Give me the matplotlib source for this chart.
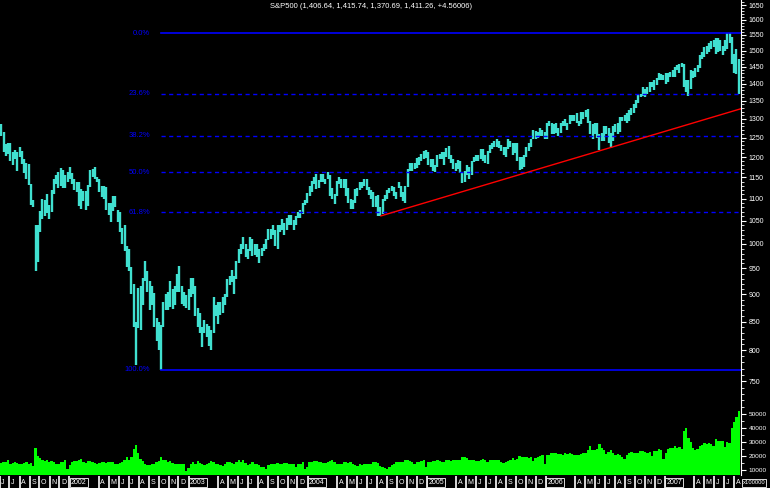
import pandas as pd
import matplotlib
matplotlib.use('Agg')
import matplotlib.pyplot as plt
import matplotlib.transforms as mtransforms
from matplotlib.ticker import FixedLocator, NullFormatter, FuncFormatter

plt.rcParams['font.family'] = ['Liberation Sans Narrow', 'Liberation Sans', 'DejaVu Sans']

# weekly S&P500 high / low (week starting Monday 2001-06-04)
week_high = [
    1286, 1265, 1233, 1235,                 # 2001 Jun
    1236, 1212, 1219, 1214, 1226,           # Jul
    1215, 1195, 1186, 1183,                 # Aug
    1135, 1096, 1040, 1040,                 # Sep
    1072, 1099, 1097, 1110, 1085,           # Oct
    1120, 1145, 1155, 1163,                 # Nov
    1173, 1168, 1155, 1163, 1176,           # Dec
    1160, 1146, 1140, 1138,                 # 2002 Jan
    1122, 1118, 1117, 1132,                 # Feb
    1168, 1170, 1174, 1152,                 # Mar
    1147, 1130, 1130, 1128, 1090,           # Apr
    1090, 1107, 1106, 1075,                 # May
    1070, 1035, 1040, 995,                  # Jun
    990, 952, 920, 850, 912,                # Jul
    915, 932, 965, 945,                     # Aug
    925, 915, 902, 856, 850,                # Sep
    843, 885, 900, 905,                     # Oct
    925, 910, 915, 940,                     # Nov
    954, 915, 905, 898, 910,                # Dec
    932, 932, 915, 875,                     # 2003 Jan
    865, 840, 852, 845,                     # Feb
    842, 835, 895, 880, 885,                # Mar
    885, 895, 900, 930,                     # Apr
    935, 946, 935, 965,                     # May
    990, 1000, 1015, 1000, 990,             # Jun
    1015, 1010, 1000, 1000,                 # Jul
    990, 992, 1000, 1010,                   # Aug
    1032, 1033, 1040, 1030, 1040,           # Sep
    1040, 1054, 1045, 1055,                 # Oct
    1062, 1063, 1052, 1060,                 # Nov
    1070, 1075, 1090, 1097, 1112,           # Dec
    1130, 1142, 1150, 1157,                 # 2004 Jan
    1143, 1157, 1158, 1147,                 # Feb
    1163, 1156, 1125, 1110, 1142,           # Mar
    1150, 1145, 1145, 1145,                 # Apr
    1125, 1100, 1097, 1123, 1125,           # May
    1140, 1140, 1146, 1145,                 # Jun
    1128, 1120, 1115, 1105,                 # Jul
    1108, 1080, 1100, 1108, 1120,           # Aug
    1125, 1130, 1128, 1115,                 # Sep
    1140, 1130, 1115, 1130,                 # Oct
    1170, 1185, 1185, 1185, 1198,           # Nov
    1200, 1207, 1215, 1217,                 # Dec
    1212, 1195, 1195, 1180, 1205,           # 2005 Jan
    1208, 1212, 1212, 1224,                 # Feb
    1229, 1205, 1195, 1185,                 # Mar
    1192, 1190, 1160, 1165,                 # Apr
    1180, 1175, 1190, 1200, 1205,           # May
    1205, 1220, 1220, 1205,                 # Jun
    1215, 1230, 1235, 1240,                 # Jul
    1245, 1240, 1230, 1225, 1225,           # Aug
    1245, 1240, 1235, 1235,                 # Sep
    1235, 1200, 1200, 1205, 1225,           # Oct
    1235, 1245, 1270, 1268,                 # Nov
    1265, 1275, 1270, 1265,                 # Dec
    1290, 1295, 1290, 1285, 1290,           # 2006 Jan
    1275, 1290, 1295, 1300,                 # Feb
    1290, 1310, 1310, 1310,                 # Mar
    1315, 1295, 1318, 1318,                 # Apr
    1325, 1326, 1295, 1285, 1290,           # May
    1290, 1260, 1262, 1280,                 # Jun
    1282, 1275, 1262, 1280, 1285,           # Jul
    1290, 1305, 1305, 1310,                 # Aug
    1315, 1325, 1330, 1340,                 # Sep
    1352, 1366, 1370, 1390, 1385,           # Oct
    1390, 1405, 1405, 1410,                 # Nov
    1415, 1430, 1427, 1425,                 # Dec
    1430, 1432, 1435, 1440, 1450,           # 2007 Jan
    1455, 1460, 1462, 1460,                 # Feb
    1410, 1410, 1440, 1438,                 # Mar
    1445, 1455, 1485, 1495, 1510,           # Apr
    1515, 1525, 1530, 1535,                 # May
    1540, 1540, 1535, 1515,                 # Jun
    1535, 1555, 1556, 1545, 1490,           # Jul
    1505, 1475,                             # Aug
]

week_low = [
    1255, 1214, 1203, 1207,
    1190, 1180, 1196, 1165, 1200,
    1183, 1160, 1147, 1132,
    1085, 1080, 944, 962,
    1026, 1054, 1060, 1068, 1053,
    1070, 1110, 1135, 1125,
    1130, 1124, 1125, 1140, 1145,
    1135, 1120, 1115, 1082,
    1077, 1095, 1075, 1084,
    1128, 1150, 1145, 1140,
    1115, 1103, 1100, 1075, 1063,
    1048, 1072, 1080, 1048,
    1025, 1000, 985, 952,
    945, 900, 840, 776, 838,
    835, 880, 925, 905,
    870, 880, 840, 816, 800,
    768, 840, 871, 870,
    877, 872, 880, 905,
    904, 882, 878, 875, 870,
    895, 900, 860, 840,
    830, 806, 830, 822,
    807, 800, 830, 860, 845,
    862, 866, 880, 894,
    918, 924, 900, 930,
    960, 980, 990, 973, 970,
    985, 975, 978, 974,
    960, 975, 985, 990,
    1008, 1010, 1018, 995, 990,
    1025, 1030, 1018, 1030,
    1040, 1040, 1030, 1040,
    1055, 1055, 1065, 1085, 1090,
    1105, 1115, 1135, 1122,
    1125, 1139, 1138, 1135,
    1145, 1105, 1100, 1087, 1105,
    1135, 1125, 1125, 1107,
    1090, 1076, 1077, 1090, 1107,
    1120, 1125, 1130, 1120,
    1108, 1100, 1080, 1080,
    1060, 1060, 1064, 1095, 1098,
    1113, 1118, 1105, 1100,
    1125, 1103, 1095, 1090,
    1127, 1165, 1165, 1170, 1172,
    1180, 1190, 1195, 1198,
    1180, 1175, 1165, 1163, 1175,
    1195, 1195, 1180, 1200,
    1195, 1185, 1170, 1165,
    1170, 1160, 1137, 1140,
    1156, 1145, 1155, 1187, 1190,
    1190, 1195, 1190, 1185,
    1183, 1210, 1220, 1225,
    1225, 1222, 1215, 1205, 1200,
    1220, 1225, 1205, 1210,
    1190, 1168, 1170, 1175, 1200,
    1215, 1225, 1245, 1245,
    1250, 1255, 1255, 1245,
    1245, 1280, 1260, 1260, 1262,
    1255, 1262, 1280, 1280,
    1270, 1285, 1295, 1295,
    1290, 1280, 1285, 1300,
    1305, 1290, 1260, 1245, 1260,
    1250, 1219, 1240, 1240,
    1260, 1235, 1224, 1240, 1265,
    1260, 1265, 1295, 1295,
    1290, 1295, 1310, 1315,
    1330, 1345, 1360, 1365, 1360,
    1370, 1375, 1390, 1380,
    1395, 1410, 1410, 1410,
    1400, 1405, 1420, 1420, 1420,
    1440, 1430, 1450, 1390,
    1374, 1364, 1385, 1415,
    1420, 1435, 1445, 1475, 1480,
    1490, 1495, 1505, 1510,
    1490, 1495, 1500, 1485,
    1500, 1505, 1525, 1458, 1430,
    1427, 1370,
]

# weekly average volume (x100000)
week_vol = [
    15000, 15500, 16000, 17500,
    14000, 15000, 15500, 15000, 14500,
    14000, 15000, 15500, 14000,
    15000, 13000, 26000, 20000,
    18500, 17500, 16500, 17000, 16000,
    16500, 15500, 14500, 14000,
    16000, 15500, 17000, 11000, 13500,
    16000, 16500, 16500, 17500,
    18000, 15500, 15000, 16500,
    16500, 15500, 15000, 14000,
    15000, 15500, 15500, 15000, 16000,
    15500, 16000, 14500, 14000,
    15000, 16000, 17500, 19500,
    17000, 19000, 25000, 28000, 22000,
    18000, 16500, 14500, 13500,
    13500, 14500, 14500, 15500, 16500,
    19000, 17500, 17000, 16000,
    16500, 15000, 14500, 14000,
    14500, 14000, 14500, 9000, 11500,
    14500, 15500, 14500, 16500,
    15000, 14000, 13500, 14000,
    15000, 16500, 16000, 14000, 14500,
    13500, 13000, 14000, 15500,
    15500, 15000, 14500, 15500,
    17000, 15500, 17000, 15000, 13500,
    14500, 15500, 14000, 14500,
    13500, 12500, 12500, 11000,
    13500, 14000, 14500, 14500, 15000,
    14000, 14500, 15000, 15000,
    14500, 14500, 14500, 12500,
    14500, 14500, 16000, 11000, 12500,
    16000, 16000, 16500, 16500,
    15500, 15500, 15000, 15000,
    15500, 16500, 17000, 15500, 14500,
    14000, 14500, 15500, 15500,
    15000, 16000, 14500, 13500, 13000,
    14000, 13500, 14000, 14500,
    14000, 14500, 15500, 15500,
    15000, 13000, 12500, 11500, 11000,
    12500, 13500, 14500, 15500,
    15500, 15500, 16000, 17500,
    17500, 16500, 16000, 14000, 15500,
    15500, 16500, 17500, 12500,
    16000, 16000, 16500, 16500, 17000,
    16500, 16000, 16000, 17500,
    17000, 16500, 17500, 17000,
    17000, 17500, 19000, 19000,
    18500, 17500, 17500, 17000, 16500,
    16500, 17500, 18000, 17000,
    16000, 17000, 17500, 17500,
    17000, 17000, 16000, 15000, 16000,
    16500, 17500, 18500, 17500,
    18000, 20000, 19500, 19500, 19000,
    18500, 19000, 16500, 18500,
    19500, 20000, 21000, 14500,
    20500, 21000, 22500, 22000, 22500,
    21500, 21500, 21000, 22000,
    21500, 22000, 21500, 21000,
    21000, 20500, 21500, 22000,
    22500, 24000, 27500, 24000, 24500,
    25000, 28500, 26000, 24500,
    21500, 23000, 24500, 22500, 21000,
    21500, 21000, 19000, 18000,
    20500, 22000, 23000, 22000,
    22500, 22500, 23500, 23500, 23000,
    22500, 23000, 20000, 23500,
    23500, 25000, 24500, 18000,
    22000, 25000, 25500, 26000, 27500,
    26000, 26500, 25000, 38000,
    40000, 33000, 30000, 26000,
    24500, 25000, 27500, 28000, 29000,
    28500, 29000, 28500, 27500,
    32000, 31000, 31000, 30500,
    26500, 30000, 29000, 40000, 44000,
    48000, 52000,
]

title = 'S&P500 (1,406.64, 1,415.74, 1,370.69, 1,411.26, +4.56006)'

fib_high = 1555.9
fib_low = 768.6
fib_start = '2002-10-09'
fib_ratios = [0.0, 0.236, 0.382, 0.5, 0.618, 1.0]
fib_labels = ['0.0%', '23.6%', '38.2%', '50.0%', '61.8%', '100.0%']

trend_dates = ['2004-08-13', '2007-08-22']
trend_prices = [1060.7, 1328]

price_ticks = list(range(750, 1651, 50))
vol_ticks = [10000, 20000, 30000, 40000, 50000]

n = min(len(week_high), len(week_low), len(week_vol))
dates = pd.date_range('2001-06-04', periods=n, freq='W-MON') + pd.Timedelta(days=2)
x0, x1 = pd.Timestamp('2001-06-02'), pd.Timestamp('2007-08-22')

W, H = 770, 488
fig = plt.figure(figsize=(W / 100, H / 100), dpi=100, facecolor='black')

# price panel
ax = fig.add_axes([0, 1 - 400 / H, 741 / W, 400 / H])
ax.set_facecolor('black')
ax.set_yscale('log')
ax.set_ylim(721, 1668)
ax.set_xlim(x0, x1)
ax.vlines(dates, week_low[:n], week_high[:n], color='#40E0D0', lw=1.7)

for r, lab in zip(fib_ratios, fib_labels):
    lvl = fib_high - r * (fib_high - fib_low)
    if r in (0.0, 1.0):
        ax.plot([pd.Timestamp(fib_start), x1], [lvl, lvl], color='#0000FF', lw=1.2)
    else:
        ax.plot([pd.Timestamp(fib_start), x1], [lvl, lvl], color='#0000FF', lw=1,
                dashes=(3, 2.5))
    tr = mtransforms.blended_transform_factory(ax.transAxes, ax.transData)
    ax.text(150 / 741, lvl, lab, transform=tr, color='#0000FF', fontsize=5.5,
            ha='right', va='center')

ax.plot(pd.to_datetime(trend_dates), trend_prices, color='#FF0000', lw=1)

for s in ['top', 'left', 'bottom']:
    ax.spines[s].set_visible(False)
ax.spines['right'].set_color('white')
ax.set_xticks([])
ax.yaxis.tick_right()
ax.yaxis.set_major_locator(FixedLocator(price_ticks))
ax.yaxis.set_minor_locator(FixedLocator(list(range(730, 1661, 10))))
ax.yaxis.set_major_formatter(FuncFormatter(lambda v, p: '%d' % v))
ax.yaxis.set_minor_formatter(NullFormatter())
ax.tick_params(axis='y', which='major', colors='white', length=3.5, labelsize=5, pad=2)
ax.tick_params(axis='y', which='minor', colors='white', length=1.8)

# volume panel
axv = fig.add_axes([0, 1 - 475 / H, 741 / W, 75 / H])
axv.set_facecolor('black')
axv.bar(dates, week_vol[:n], width=7, color='#00FF00', linewidth=0)
axv.set_xlim(x0, x1)
axv.set_ylim(6430, 60000)
for s in ['top', 'left', 'bottom']:
    axv.spines[s].set_visible(False)
axv.spines['right'].set_color('white')
axv.set_xticks([])
axv.yaxis.tick_right()
axv.yaxis.set_major_locator(FixedLocator(vol_ticks))
axv.yaxis.set_minor_locator(FixedLocator(list(range(10000, 60001, 5000))))
axv.yaxis.set_major_formatter(FuncFormatter(lambda v, p: '%d' % v))
axv.tick_params(axis='y', which='major', colors='white', length=3.5, labelsize=4.6, pad=2)
axv.tick_params(axis='y', which='minor', colors='white', length=1.8)

# month strip
axs = fig.add_axes([0, 0, 741 / W, 12 / H])
axs.set_facecolor('black')
axs.set_xlim(x0, x1)
axs.set_ylim(0, 1)
axs.axis('off')
for m in pd.date_range('2001-06-01', '2007-08-01', freq='MS'):
    if m.month in (2, 3):
        continue
    axs.axvline(m, color='white', lw=1.2)
    if m.month == 1:
        axs.text(m + pd.Timedelta(days=4), 0.45, str(m.year), color='white', fontsize=5,
                 ha='left', va='center',
                 bbox=dict(facecolor='black', edgecolor='white', pad=0.8, lw=0.6))
    else:
        axs.text(m + pd.Timedelta(days=5), 0.45, m.strftime('%b')[0], color='white',
                 fontsize=5, ha='left', va='center')

fig.text(0.482, 1 - 6 / H, title, color='white', fontsize=5.5, ha='center', va='center')
fig.text(754 / W, 1 - 483 / H, 'x100000', color='white', fontsize=4.2, ha='center',
         va='center', bbox=dict(facecolor='black', edgecolor='white', pad=0.8, lw=0.6))

fig.savefig('out.png', dpi=100, facecolor='black')
